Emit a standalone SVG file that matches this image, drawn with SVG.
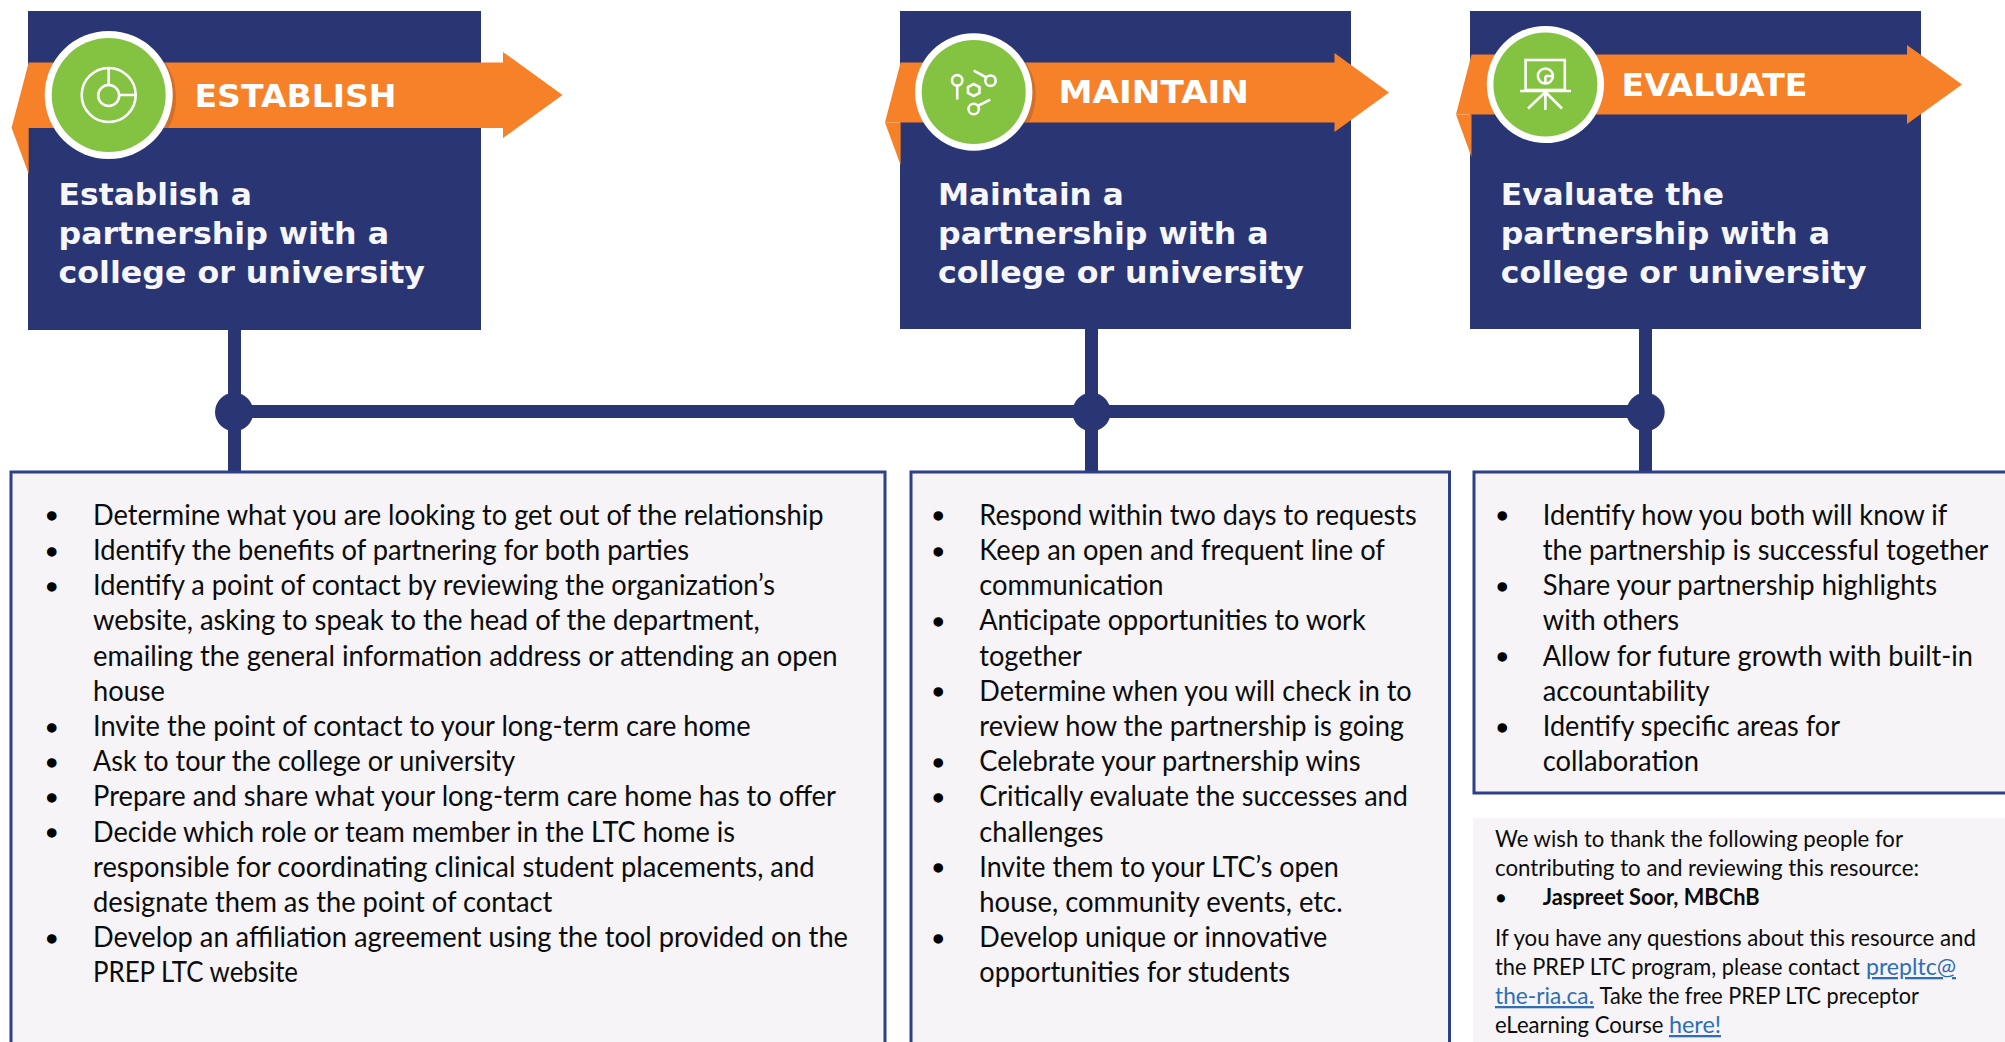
<svg xmlns="http://www.w3.org/2000/svg" width="2005" height="1042" viewBox="0 0 2005 1042">
<style>
.navy{fill:#2a3574}
.arrow{fill:#f68128}
.fold{fill:#f68128}
.ring{fill:#fff}
.green{fill:#84c341}
.shadow{fill:#a85f2e;opacity:.5}
.ic{fill:none;stroke:#fff;stroke-width:2.6}
.panel{fill:#f6f4f6;stroke:#2d4089;stroke-width:3}
.lab{font-family:"DejaVu Sans",sans-serif;font-weight:700;font-size:32px;fill:#fff}
.head{font-family:"DejaVu Sans",sans-serif;font-weight:700;font-size:31px;fill:#f7f7fb}
.b{font-family:"Lato","Noto Sans",sans-serif;font-size:28px;fill:#0c0c0c}
.c{font-family:"Lato","Noto Sans",sans-serif;font-size:23px;fill:#0c0c0c}
.cb{font-family:"Lato","Noto Sans",sans-serif;font-size:23px;font-weight:700;fill:#0c0c0c}
.lnk{font-family:"Lato","Noto Sans",sans-serif;font-size:23px;fill:#2f6eb5;text-decoration:underline}
.dot{font-family:"Liberation Sans",sans-serif;font-size:30px;fill:#000;stroke:#000;stroke-width:1.4}
.dots{font-family:"Liberation Sans",sans-serif;font-size:25px;fill:#000;stroke:#000;stroke-width:1.2}
.conn{stroke:#2a3574;fill:none;stroke-width:13}
</style>
<defs>
<clipPath id="band1"><rect x="28" y="62.5" width="200" height="65.5"/></clipPath>
<clipPath id="band2"><rect x="900" y="62.5" width="200" height="60"/></clipPath>
</defs>
<rect width="2005" height="1042" fill="#fff"/>

<g id="connectors">
<line class="conn" x1="234.5" y1="330" x2="234.5" y2="472"/>
<line class="conn" x1="1091.5" y1="329" x2="1091.5" y2="472"/>
<line class="conn" x1="1645.5" y1="329" x2="1645.5" y2="472"/>
<line class="conn" x1="234" y1="411.5" x2="1646" y2="411.5"/>
<circle class="navy" cx="234.2" cy="412" r="19.2"/>
<circle class="navy" cx="1091.5" cy="412" r="19.2"/>
<circle class="navy" cx="1645.5" cy="412" r="19.2"/>
</g>

<g id="node-establish">
<rect class="navy" x="28" y="11" width="453" height="319"/>
<path class="fold" d="M11.5 127.5L28.7 127.5L28.7 174Z"/>
<path class="arrow" d="M28.7 62.5L503 62.5L503 52L562.5 95L503 138L503 128L11.5 128Z"/>
<circle class="shadow" cx="112" cy="98" r="64" clip-path="url(#band1)"/>
<circle class="ring" cx="108.7" cy="95" r="64"/>
<circle class="green" cx="108.7" cy="95" r="57"/>
<circle class="ic" cx="108.7" cy="95" r="27"/>
<circle class="ic" cx="108.7" cy="95.5" r="10.5"/>
<path class="ic" d="M108.7 69V85M119.5 95H135"/>
<text class="lab" x="194.5" y="106.5" textLength="202" lengthAdjust="spacingAndGlyphs">ESTABLISH</text>
<text class="head" x="58.5" y="205" textLength="193.5" lengthAdjust="spacingAndGlyphs">Establish a</text>
<text class="head" x="58.5" y="244" textLength="330.5" lengthAdjust="spacingAndGlyphs">partnership with a</text>
<text class="head" x="58.5" y="283" textLength="366.5" lengthAdjust="spacingAndGlyphs">college or university</text>
</g>

<g id="node-maintain">
<rect class="navy" x="900" y="11" width="451" height="318"/>
<path class="fold" d="M885 122.5L900.6 122.5L900.6 165Z"/>
<path class="arrow" d="M900.6 62.5L1334.5 62.5L1334.5 53L1389 92.5L1334.5 132L1334.5 122.5L885 122.5Z"/>
<circle class="shadow" cx="977" cy="95" r="58.7" clip-path="url(#band2)"/>
<circle class="ring" cx="973.7" cy="92" r="58.7"/>
<circle class="green" cx="973.7" cy="92" r="52"/>
<circle class="ic" cx="957.2" cy="80.3" r="5.2"/>
<path class="ic" d="M957.2 85.5V99.5"/>
<path class="ic" d="M973.7 84L979.5 87V93L973.7 96L968 93V87Z"/>
<circle class="ic" cx="990.5" cy="80.7" r="5.2"/>
<path class="ic" d="M985.6 77L973.7 70.7"/>
<circle class="ic" cx="973.7" cy="109" r="5.2"/>
<path class="ic" d="M978.5 105.5L990.3 99.7"/>
<text class="lab" x="1058.5" y="102.7" textLength="190.5" lengthAdjust="spacingAndGlyphs">MAINTAIN</text>
<text class="head" x="938" y="205" textLength="185.7" lengthAdjust="spacingAndGlyphs">Maintain a</text>
<text class="head" x="938" y="244" textLength="330.7" lengthAdjust="spacingAndGlyphs">partnership with a</text>
<text class="head" x="938" y="283" textLength="366" lengthAdjust="spacingAndGlyphs">college or university</text>
</g>

<g id="node-evaluate">
<rect class="navy" x="1470" y="11" width="451" height="318"/>
<path class="fold" d="M1456 114.5L1471.5 114.5L1471.5 157Z"/>
<path class="arrow" d="M1471.5 54.5L1907 54.5L1907 45L1962 84.5L1907 124L1907 114.5L1456 114.5Z"/>
<circle class="ring" cx="1545.4" cy="84.5" r="58.6"/>
<circle class="green" cx="1545.4" cy="84.5" r="52"/>
<rect class="ic" x="1525.6" y="60" width="39.2" height="30"/>
<path class="ic" d="M1520 91H1571M1545.4 91V110M1545.4 92L1528 108.5M1545.4 92L1562 108.5"/>
<circle class="ic" cx="1545.4" cy="76" r="7.5"/>
<path class="ic" d="M1545.4 76H1552.9M1545.4 76V83.5"/>
<text class="lab" x="1621.5" y="96" textLength="186" lengthAdjust="spacingAndGlyphs">EVALUATE</text>
<text class="head" x="1500.7" y="205" textLength="223.3" lengthAdjust="spacingAndGlyphs">Evaluate the</text>
<text class="head" x="1500.7" y="244" textLength="329.3" lengthAdjust="spacingAndGlyphs">partnership with a</text>
<text class="head" x="1500.7" y="283" textLength="365.9" lengthAdjust="spacingAndGlyphs">college or university</text>
</g>

<g id="panel-establish">
<rect class="panel" x="11" y="472" width="874" height="600"/>
<g transform="translate(0,0.4)">
<text class="dot" x="46.4" y="526.1">•</text>
<text class="dot" x="46.4" y="561.3">•</text>
<text class="dot" x="46.4" y="596.5">•</text>
<text class="dot" x="46.4" y="737.3">•</text>
<text class="dot" x="46.4" y="772.5">•</text>
<text class="dot" x="46.4" y="807.7">•</text>
<text class="dot" x="46.4" y="842.9">•</text>
<text class="dot" x="46.4" y="948.5">•</text>
<text class="b" x="93" y="524.5" textLength="730.5" lengthAdjust="spacingAndGlyphs">Determine what you are looking to get out of the relationship</text>
<text class="b" x="93" y="559.7" textLength="596" lengthAdjust="spacingAndGlyphs">Identify the benefits of partnering for both parties</text>
<text class="b" x="93" y="594.9" textLength="682" lengthAdjust="spacingAndGlyphs">Identify a point of contact by reviewing the organization’s</text>
<text class="b" x="93" y="630.1" textLength="666.6" lengthAdjust="spacingAndGlyphs">website, asking to speak to the head of the department,</text>
<text class="b" x="93" y="665.3" textLength="744.5" lengthAdjust="spacingAndGlyphs">emailing the general information address or attending an open</text>
<text class="b" x="93" y="700.5" textLength="72" lengthAdjust="spacingAndGlyphs">house</text>
<text class="b" x="93" y="735.7" textLength="657.6" lengthAdjust="spacingAndGlyphs">Invite the point of contact to your long-term care home</text>
<text class="b" x="93" y="770.9" textLength="422.3" lengthAdjust="spacingAndGlyphs">Ask to tour the college or university</text>
<text class="b" x="93" y="806.1" textLength="743" lengthAdjust="spacingAndGlyphs">Prepare and share what your long-term care home has to offer</text>
<text class="b" x="93" y="841.3" textLength="642" lengthAdjust="spacingAndGlyphs">Decide which role or team member in the LTC home is</text>
<text class="b" x="93" y="876.5" textLength="721.5" lengthAdjust="spacingAndGlyphs">responsible for coordinating clinical student placements, and</text>
<text class="b" x="93" y="911.7" textLength="459.4" lengthAdjust="spacingAndGlyphs">designate them as the point of contact</text>
<text class="b" x="93" y="946.9" textLength="755" lengthAdjust="spacingAndGlyphs">Develop an affiliation agreement using the tool provided on the</text>
<text class="b" x="93" y="982.1" textLength="205" lengthAdjust="spacingAndGlyphs">PREP LTC website</text>
</g>
</g>

<g id="panel-maintain">
<rect class="panel" x="911" y="472" width="538.5" height="600"/>
<g transform="translate(0,0.4)">
<text class="dot" x="933" y="526.1">•</text>
<text class="dot" x="933" y="561.3">•</text>
<text class="dot" x="933" y="631.7">•</text>
<text class="dot" x="933" y="702.1">•</text>
<text class="dot" x="933" y="772.5">•</text>
<text class="dot" x="933" y="807.7">•</text>
<text class="dot" x="933" y="878.1">•</text>
<text class="dot" x="933" y="948.5">•</text>
<text class="b" x="979.3" y="524.5" textLength="437.5" lengthAdjust="spacingAndGlyphs">Respond within two days to requests</text>
<text class="b" x="979.3" y="559.7" textLength="405.5" lengthAdjust="spacingAndGlyphs">Keep an open and frequent line of</text>
<text class="b" x="979.3" y="594.9" textLength="184.3" lengthAdjust="spacingAndGlyphs">communication</text>
<text class="b" x="979.3" y="630.1" textLength="386.4" lengthAdjust="spacingAndGlyphs">Anticipate opportunities to work</text>
<text class="b" x="979.3" y="665.3" textLength="102.5" lengthAdjust="spacingAndGlyphs">together</text>
<text class="b" x="979.3" y="700.5" textLength="432.4" lengthAdjust="spacingAndGlyphs">Determine when you will check in to</text>
<text class="b" x="979.3" y="735.7" textLength="424.7" lengthAdjust="spacingAndGlyphs">review how the partnership is going</text>
<text class="b" x="979.3" y="770.9" textLength="381.2" lengthAdjust="spacingAndGlyphs">Celebrate your partnership wins</text>
<text class="b" x="979.3" y="806.1" textLength="428.5" lengthAdjust="spacingAndGlyphs">Critically evaluate the successes and</text>
<text class="b" x="979.3" y="841.3" textLength="124.2" lengthAdjust="spacingAndGlyphs">challenges</text>
<text class="b" x="979.3" y="876.5" textLength="359.5" lengthAdjust="spacingAndGlyphs">Invite them to your LTC’s open</text>
<text class="b" x="979.3" y="911.7" textLength="363.4" lengthAdjust="spacingAndGlyphs">house, community events, etc.</text>
<text class="b" x="979.3" y="946.9" textLength="348" lengthAdjust="spacingAndGlyphs">Develop unique or innovative</text>
<text class="b" x="979.3" y="982.1" textLength="310.7" lengthAdjust="spacingAndGlyphs">opportunities for students</text>
</g>
</g>

<g id="panel-evaluate">
<rect class="panel" x="1474" y="472" width="540" height="321"/>
<g transform="translate(0,0.4)">
<text class="dot" x="1497" y="526.1">•</text>
<text class="dot" x="1497" y="596.5">•</text>
<text class="dot" x="1497" y="666.9">•</text>
<text class="dot" x="1497" y="737.3">•</text>
<text class="b" x="1542.8" y="524.5" textLength="404.6" lengthAdjust="spacingAndGlyphs">Identify how you both will know if</text>
<text class="b" x="1542.8" y="559.7" textLength="445.6" lengthAdjust="spacingAndGlyphs">the partnership is successful together</text>
<text class="b" x="1542.8" y="594.9" textLength="394.2" lengthAdjust="spacingAndGlyphs">Share your partnership highlights</text>
<text class="b" x="1542.8" y="630.1" textLength="136.2" lengthAdjust="spacingAndGlyphs">with others</text>
<text class="b" x="1542.8" y="665.3" textLength="430.2" lengthAdjust="spacingAndGlyphs">Allow for future growth with built-in</text>
<text class="b" x="1542.8" y="700.5" textLength="166.8" lengthAdjust="spacingAndGlyphs">accountability</text>
<text class="b" x="1542.8" y="735.7" textLength="297.2" lengthAdjust="spacingAndGlyphs">Identify specific areas for</text>
<text class="b" x="1542.8" y="770.9" textLength="156.2" lengthAdjust="spacingAndGlyphs">collaboration</text>
</g>
</g>

<g id="credits">
<rect x="1473" y="818" width="532" height="224" fill="#f6f4f6"/>
<text class="c" x="1495" y="847" textLength="408" lengthAdjust="spacingAndGlyphs">We wish to thank the following people for</text>
<text class="c" x="1495" y="876" textLength="424" lengthAdjust="spacingAndGlyphs">contributing to and reviewing this resource:</text>
<text class="dots" x="1496.6" y="906.9">•</text>
<text class="cb" x="1542.7" y="905" textLength="216.9" lengthAdjust="spacingAndGlyphs">Jaspreet Soor, MBChB</text>
<text class="c" x="1495" y="946" textLength="481" lengthAdjust="spacingAndGlyphs">If you have any questions about this resource and</text>
<text class="c" transform="translate(1495,975) scale(.95,1)">the PREP LTC program, please contact</text>
<text class="lnk" x="1866" y="975" textLength="90" lengthAdjust="spacingAndGlyphs">prepltc@</text>
<text class="lnk" x="1495" y="1004" textLength="99" lengthAdjust="spacingAndGlyphs">the-ria.ca.</text>
<text class="c" x="1599.6" y="1004" textLength="319.4" lengthAdjust="spacingAndGlyphs">Take the free PREP LTC preceptor</text>
<text class="c" x="1495" y="1033" textLength="168.4" lengthAdjust="spacingAndGlyphs">eLearning Course</text>
<text class="lnk" x="1669" y="1033" textLength="52" lengthAdjust="spacingAndGlyphs">here!</text>
</g>
</svg>
